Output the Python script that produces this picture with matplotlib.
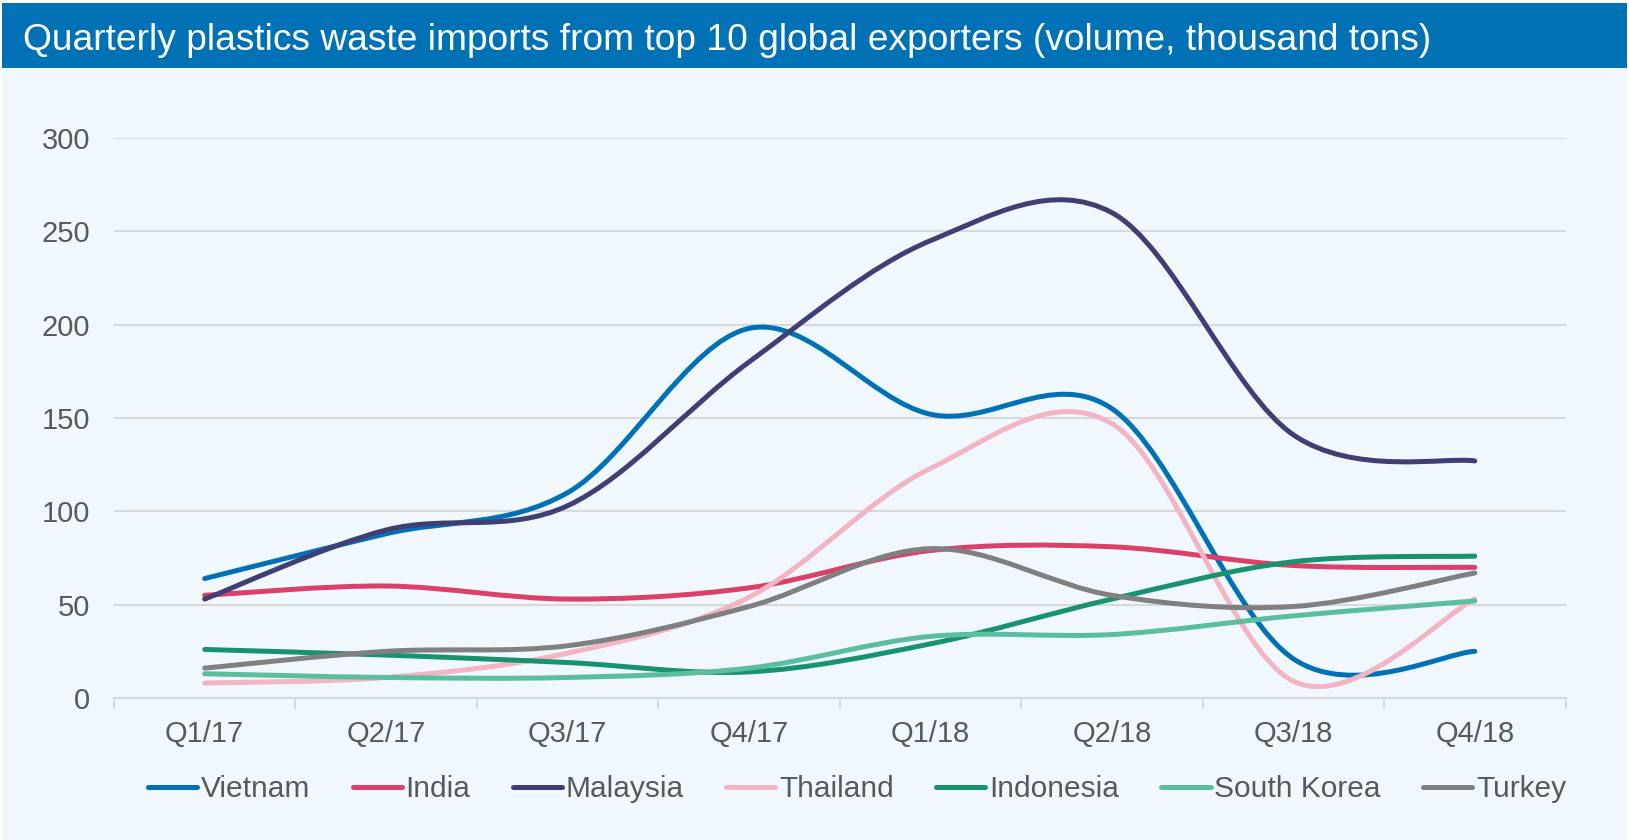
import numpy as np
import matplotlib.pyplot as plt
from matplotlib.path import Path
from matplotlib.patches import PathPatch, Rectangle
from matplotlib.lines import Line2D

quarters = ['Q1/17', 'Q2/17', 'Q3/17', 'Q4/17', 'Q1/18', 'Q2/18', 'Q3/18', 'Q4/18']
vietnam = [64, 88, 110, 198, 152, 155, 21, 25]
india = [55, 60, 53, 59, 79, 81, 71, 70]
malaysia = [53, 90, 103, 180, 245, 260, 141, 127]
thailand = [8, 11, 24, 54, 123, 147, 9, 53]
indonesia = [26, 23, 19, 14, 29, 53, 73, 76]
south_korea = [13, 11, 11, 16, 33, 34, 44, 52]
turkey = [16, 25, 28, 49, 80, 55, 49, 67]

series = [
    ('Vietnam', vietnam, '#0071B7'),
    ('India', india, '#DB4068'),
    ('Malaysia', malaysia, '#3F3F73'),
    ('Thailand', thailand, '#F1B5C3'),
    ('Indonesia', indonesia, '#19936D'),
    ('South Korea', south_korea, '#5BBF9E'),
    ('Turkey', turkey, '#808080'),
]

TXT = '#595959'
GRID = '#D9D9D9'
BG = '#F0F8FE'
BAR = '#0071B5'
FONT = 'Liberation Sans'
LW = 3.6


def smooth_path(x, y):
    # Excel-like smoothed line: Catmull-Rom segments as cubic Beziers
    pts = np.column_stack([x, y]).astype(float)
    n = len(pts)
    verts = [pts[0]]
    codes = [Path.MOVETO]
    for i in range(n - 1):
        p0 = pts[max(i - 1, 0)]
        p1 = pts[i]
        p2 = pts[i + 1]
        p3 = pts[min(i + 2, n - 1)]
        c1 = p1 + (p2 - p0) / 6.0
        c2 = p2 - (p3 - p1) / 6.0
        verts += [c1, c2, p2]
        codes += [Path.CURVE4] * 3
    return Path(verts, codes)


fig = plt.figure(figsize=(16.29, 8.40), dpi=100)
fig.patch.set_facecolor('white')
fig.patches.append(Rectangle((2 / 1629, 0), 1 - 4 / 1629, 1 - 3 / 840,
                             transform=fig.transFigure, facecolor=BG,
                             edgecolor='none', zorder=-2))
fig.patches.append(Rectangle((2 / 1629, 1 - 68 / 840), 1 - 4 / 1629, 65 / 840,
                             transform=fig.transFigure, facecolor=BAR,
                             edgecolor='none', zorder=-1))
fig.text(23 / 1629, 1 - 40 / 840,
         'Quarterly plastics waste imports from top 10 global exporters (volume, thousand tons)',
         color='white', fontsize=26.7, family=FONT, va='center', ha='left')

ax = fig.add_axes([114 / 1629, 1 - 698 / 840, (1565.5 - 114) / 1629, 560 / 840])
ax.set_zorder(2)
ax.set_facecolor('none')

x = np.arange(len(quarters))
for name, vals, color in series:
    patch = PathPatch(smooth_path(x, vals), facecolor='none', edgecolor=color,
                      linewidth=LW, capstyle='round', joinstyle='round', zorder=3)
    ax.add_patch(patch)

ax.set_xlim(-0.5, len(quarters) - 0.5)
ax.set_ylim(0, 300)
ax.set_yticks(range(0, 301, 50))
ax.yaxis.grid(True, color=GRID, linewidth=1.5)
ax.set_axisbelow(True)

ax.set_xticks(x)
ax.set_xticklabels(quarters)
ax.set_xticks(np.arange(-0.5, len(quarters), 1), minor=True)
ax.tick_params(axis='x', which='major', length=0, pad=15.5, labelsize=21, labelcolor=TXT)
ax.tick_params(axis='x', which='minor', length=8, width=1.5, color=GRID)
ax.tick_params(axis='y', length=0, pad=17, labelsize=21, labelcolor=TXT)
for lbl in ax.get_xticklabels() + ax.get_yticklabels():
    lbl.set_family(FONT)

for side in ['top', 'right', 'left']:
    ax.spines[side].set_visible(False)
ax.spines['bottom'].set_color(GRID)
ax.spines['bottom'].set_linewidth(1.5)

handles = [Line2D([], [], color=c, linewidth=LW, solid_capstyle='round') for _, _, c in series]
leg = fig.legend(handles, [s[0] for s in series], loc='center',
                 bbox_to_anchor=(857 / 1629, 1 - 789 / 840), ncol=7, frameon=False,
                 handlelength=1.65, handletextpad=0.12, columnspacing=1.42,
                 prop={'family': FONT, 'size': 21.5})
for t in leg.get_texts():
    t.set_color(TXT)

fig.savefig('out.png', dpi=100, facecolor=fig.get_facecolor())
